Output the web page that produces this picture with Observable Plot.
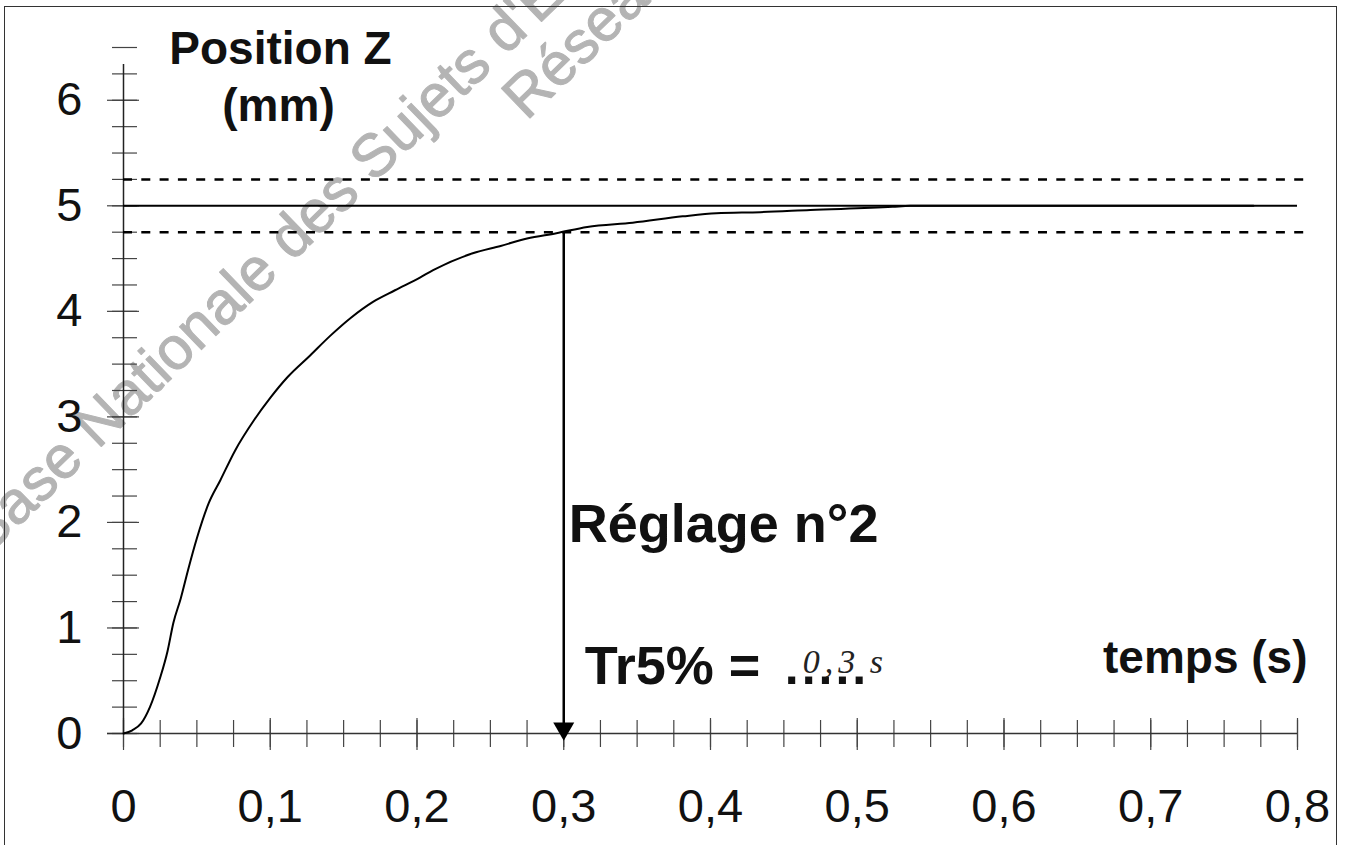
<!DOCTYPE html>
<html><head><meta charset="utf-8">
<script src="https://cdn.jsdelivr.net/npm/d3@7"></script>
<script src="https://cdn.jsdelivr.net/npm/@observablehq/plot@0.6"></script>
<style>
html,body{margin:0;padding:0;background:#fff;overflow:hidden}
#wrap{position:relative;width:1346px;height:845px}
#border{position:absolute;left:4px;top:6px;width:1331px;height:900px;border:1.5px solid #333;border-bottom:none;pointer-events:none;z-index:2}
</style></head><body><div id="wrap"><div id="border"></div></div>
<script>
// step response
const time = [0, 0.006, 0.012, 0.018, 0.025, 0.030, 0.034, 0.039, 0.044, 0.050, 0.058, 0.066, 0.076, 0.089, 0.100, 0.112, 0.127, 0.141, 0.155, 0.170, 0.185, 0.202, 0.211, 0.238, 0.257, 0.275, 0.295, 0.316, 0.347, 0.381, 0.404, 0.434, 0.468, 0.524, 0.536, 0.60, 0.70, 0.77];
const position = [0, 0.03, 0.095, 0.25, 0.53, 0.78, 1.05, 1.28, 1.55, 1.85, 2.18, 2.40, 2.68, 2.97, 3.18, 3.38, 3.58, 3.77, 3.94, 4.09, 4.20, 4.32, 4.39, 4.55, 4.62, 4.69, 4.74, 4.80, 4.84, 4.90, 4.93, 4.94, 4.96, 4.99, 5.0, 5.0, 5.0, 5.0];
const setpoint = 5;
const band = [4.75, 5.25];
const tr5 = 0.3;
const yLabels = [0, 1, 2, 3, 4, 5, 6];
const xLabels = [0, 0.1, 0.2, 0.3, 0.4, 0.5, 0.6, 0.7, 0.8];
const yMinor = d3.range(0, 26 + 1).map(i => i * 0.25);
const xMinor = d3.range(0, 32 + 1).map(i => i * 0.025);
const watermark = ["Base Nationale des Sujets d'Examens de l'enseignement professionnel", "Réseau Canopé"];

const data = time.map((t, i) => ({t, z: position[i]}));

const downTriangle = {
  draw(ctx, size) {
    const y = Math.sqrt(size / (3 * Math.sqrt(3)));
    ctx.moveTo(0, 2 * y);
    ctx.lineTo(-Math.sqrt(3) * y, -y);
    ctx.lineTo(Math.sqrt(3) * y, -y);
    ctx.closePath();
  }
};

const bold = {fontWeight: "bold", textAnchor: "start", lineAnchor: "bottom", fill: "#111"};
const hand = {textAnchor: "start", lineAnchor: "bottom", fontFamily: "'Liberation Serif', 'Times New Roman', serif", fontStyle: "italic", fontSize: 34, fill: "#222"};
const wm = {frameAnchor: "top-left", rotate: -44, textAnchor: "start", lineAnchor: "bottom", fontSize: 60, fill: "#b4b4b4", stroke: "#b4b4b4", strokeWidth: 1};

const chart = Plot.plot({
  width: 1346, height: 845,
  marginLeft: 123, marginRight: 49, marginTop: 47, marginBottom: 112,
  x: {domain: [0, 0.8]},
  y: {domain: [0, 6.5]},
  style: {fontFamily: "'Liberation Sans', Arial, sans-serif", background: "transparent", color: "#111", overflow: "hidden"},
  marks: [
    Plot.text([watermark[0]], {...wm, dx: -136, dy: 509}),
    Plot.text([watermark[1]], {...wm, dx: 403, dy: 74}),
    // ticks crossing the axes
    Plot.ruleY(yMinor, {x1: 0, x2: 0, insetLeft: -11, insetRight: -14, stroke: "#444", strokeWidth: 1.2}),
    Plot.ruleY(yLabels, {x1: 0, x2: 0, insetLeft: -16, insetRight: -16, stroke: "#444", strokeWidth: 1.2}),
    Plot.ruleX(xMinor, {y1: 0, y2: 0, insetTop: -13, insetBottom: -14, stroke: "#444", strokeWidth: 1.2}),
    Plot.ruleX(xLabels, {y1: 0, y2: 0, insetTop: -15, insetBottom: -17, stroke: "#444", strokeWidth: 1.2}),
    // axis lines
    Plot.ruleX([0], {y1: 0, y2: 6.5, insetBottom: -17, stroke: "#222", strokeWidth: 1.5}),
    Plot.ruleY([0], {x1: 0, x2: 0.8, insetLeft: -16, stroke: "#333", strokeWidth: 1.3}),
    // tolerance band and setpoint
    Plot.ruleY(band, {x1: 0, x2: 0.81, stroke: "#000", strokeWidth: 2.5, strokeDasharray: "9,9.3"}),
    Plot.ruleY([setpoint], {x1: 0, x2: 0.8, stroke: "#000", strokeWidth: 2}),
    // response
    Plot.line(data, {x: "t", y: "z", stroke: "#000", strokeWidth: 2, curve: "monotone-x"}),
    // Tr5% arrow
    Plot.ruleX([tr5], {y1: band[0], y2: 0, stroke: "#000", strokeWidth: 2.5}),
    Plot.dot([tr5], {x: d => d, y: 0, dy: -5, symbol: downTriangle, r: 7.8, fill: "#000", stroke: "none"}),
    // axes labels
    Plot.axisY(yLabels, {tickSize: 0, tickPadding: 41, fontSize: 47, label: null, tickFormat: d => String(d)}),
    Plot.axisX(xLabels, {tickSize: 0, tickPadding: 55, fontSize: 47, label: null, tickFormat: d => d === 0 ? "0" : d.toFixed(1).replace(".", ",")}),
    // annotations
    Plot.text(["Position Z"], {x: 0, y: 6.5, dx: 157, dy: 16, ...bold, textAnchor: "middle", fontSize: 46}),
    Plot.text(["(mm)"], {x: 0, y: 6.5, dx: 155, dy: 73, ...bold, textAnchor: "middle", fontSize: 46}),
    Plot.text(["Réglage n°2"], {x: tr5, y: 2, dx: 5, dy: 20, ...bold, fontSize: 54}),
    Plot.text(["Tr5% ="], {x: tr5, y: 0, dx: 21, dy: -50, ...bold, fontSize: 54}),
    Plot.text(["....."], {x: tr5, y: 0, dx: 221, dy: -50, ...bold, fontSize: 50}),
    Plot.text(["0,3"], {x: tr5, y: 0, dx: 239, dy: -61, ...hand}),
    Plot.text(["s"], {x: tr5, y: 0, dx: 306, dy: -61, ...hand}),
    Plot.text(["temps (s)"], {x: 0.8, y: 0, dx: 10, dy: -61, ...bold, textAnchor: "end", fontSize: 46})
  ]
});

const svg = d3.select(chart);
svg.selectAll("g[font-style=italic] text").filter(function() { return this.textContent === "0,3"; }).attr("letter-spacing", 5);
svg.selectAll("text").filter(function() { return this.textContent === "....."; }).attr("letter-spacing", 3);
document.getElementById("wrap").appendChild(chart);
</script>
</body></html>
